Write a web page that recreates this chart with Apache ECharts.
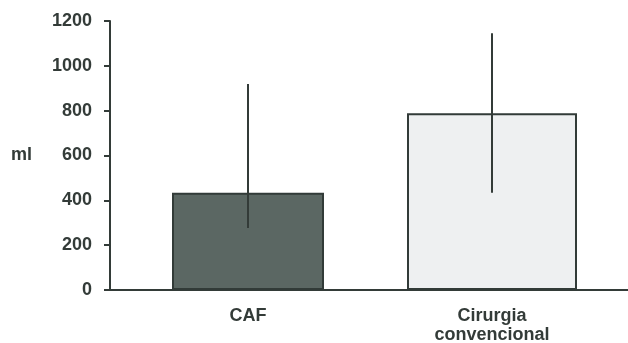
<!DOCTYPE html>
<html>
<head>
<meta charset="utf-8">
<script src="https://cdn.jsdelivr.net/npm/echarts@6/dist/echarts.min.js"></script>
<style>
  html, body { margin: 0; padding: 0; background: #ffffff; }
  #chart { width: 628px; height: 343px; }
</style>
</head>
<body>
<div id="chart"></div>
<script>
// Volume (ml) by surgical technique, mean with error range
var categories = ['CAF', 'Cirurgia\nconvencional'];
var means = [434, 788];
var errLow = [277, 434];
var errHigh = [919, 1145];
var yTicks = [0, 200, 400, 600, 800, 1000, 1200];

var INK = '#333b38';
var FONT = '"Liberation Sans", Arial, sans-serif';

var chart = echarts.init(document.getElementById('chart'), null, { renderer: 'canvas' });

function single(i) {
  return means.map(function (v, j) { return j === i ? v : '-'; });
}

chart.setOption({
  animation: false,
  backgroundColor: '#ffffff',
  grid: [
    // frame: y axis and baseline
    { left: 110, right: 0, top: 21, bottom: 53, outerBoundsMode: 'none' },
    // plotting area for the bars
    { left: 126, right: 14, top: 21, bottom: 53, outerBoundsMode: 'none' }
  ],
  xAxis: [
    {
      gridIndex: 0, type: 'category', data: categories,
      axisLine: { lineStyle: { color: INK, width: 2 } },
      axisTick: { show: false }, axisLabel: { show: false }
    },
    {
      gridIndex: 1, type: 'category', data: categories,
      axisLine: { show: false }, axisTick: { show: false },
      axisLabel: {
        color: INK, fontFamily: FONT, fontWeight: 'bold', fontSize: 18,
        lineHeight: 19, margin: 17, interval: 0
      }
    },
    {
      gridIndex: 1, type: 'category', data: categories, show: false
    }
  ],
  yAxis: [
    {
      gridIndex: 0, type: 'value', min: 0, max: 1200, interval: 200,
      name: 'ml', nameLocation: 'middle', nameRotate: 0, nameGap: 78,
      nameTextStyle: { color: INK, fontFamily: FONT, fontWeight: 'bold', fontSize: 18 },
      axisLine: { show: true, lineStyle: { color: INK, width: 2 } },
      axisTick: { show: true, inside: false, length: 6, lineStyle: { color: INK, width: 2 } },
      axisLabel: {
        color: INK, fontFamily: FONT, fontWeight: 'bold', fontSize: 18, margin: 18,
        formatter: function (v) { return yTicks.indexOf(v) >= 0 ? String(v) : ''; }
      },
      splitLine: { show: false }
    },
    {
      gridIndex: 1, type: 'value', min: 0, max: 1200, interval: 200, show: false
    }
  ],
  series: [
    {
      type: 'bar', xAxisIndex: 1, yAxisIndex: 1, data: single(0), barWidth: 152,
      itemStyle: { color: '#5b6763', borderColor: '#323b38', borderWidth: 2 }
    },
    {
      type: 'bar', xAxisIndex: 2, yAxisIndex: 1, data: single(1), barWidth: 170,
      itemStyle: { color: '#eef0f1', borderColor: '#323b38', borderWidth: 2 }
    },
    {
      type: 'custom', xAxisIndex: 1, yAxisIndex: 1,
      data: categories.map(function (c, i) { return [i, errLow[i], errHigh[i]]; }),
      renderItem: function (params, api) {
        var lo = api.coord([api.value(0), api.value(1)]);
        var hi = api.coord([api.value(0), api.value(2)]);
        return {
          type: 'line',
          shape: { x1: lo[0], y1: lo[1], x2: hi[0], y2: hi[1] },
          style: { stroke: INK, lineWidth: 2 }
        };
      },
      z: 5
    }
  ]
});
</script>
</body>
</html>
